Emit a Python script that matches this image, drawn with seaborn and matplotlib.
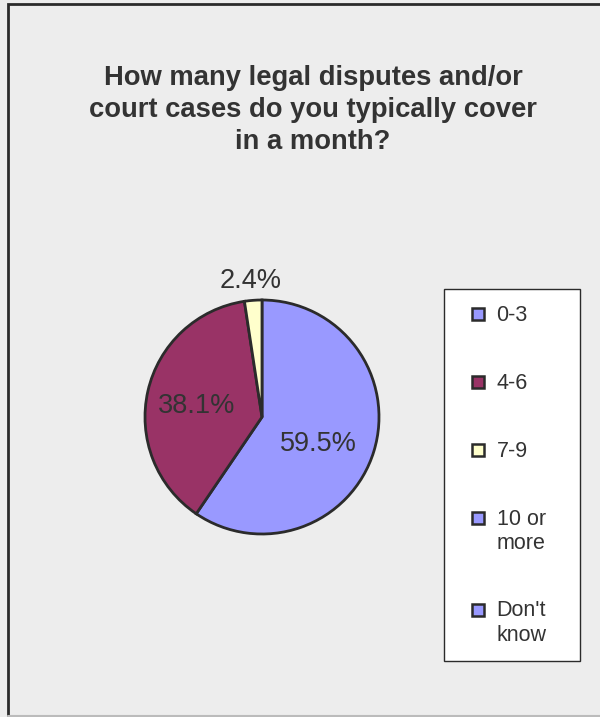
import matplotlib
matplotlib.use("Agg")
import matplotlib.pyplot as plt
import seaborn as sns
from matplotlib.lines import Line2D
from matplotlib.patches import Rectangle

# Data
categories = ["0-3", "4-6", "7-9", "10 or\nmore", "Don't\nknow"]
shares = [59.5, 38.1, 2.4, 0.0, 0.0]
colors = ["#9999FF", "#993366", "#FFFFCC", "#9999FF", "#9999FF"]
title = "How many legal disputes and/or\ncourt cases do you typically cover\nin a month?"

sns.set_style("white")
plt.rcParams["font.family"] = ["Liberation Sans", "DejaVu Sans"]
text_color = "#333333"
edge_color = "#2b2b2b"

fig = plt.figure(figsize=(6, 7.17), dpi=100)
fig.patch.set_facecolor("#EDEDED")

# outer chart border (left/top dark, bottom light)
fig.add_artist(Rectangle((7.5 / 600, 1 - 716 / 717), 1.2, (716 - 3.5) / 717,
                         transform=fig.transFigure, fill=False,
                         edgecolor=edge_color, linewidth=2))
fig.add_artist(Line2D([8 / 600, 1], [1 - 716 / 717] * 2,
                      transform=fig.transFigure, color="#BBBBBB", linewidth=1.5))

fig.text(313 / 600, 1 - 110 / 717, title, ha="center", va="center",
         fontsize=19.7, fontweight="bold", color=text_color, linespacing=1.28)

# pie area: center (262, 417), radius ~117 px
r = 117
ax = fig.add_axes([(262 - r) / 600, 1 - (417 + r) / 717, 2 * r / 600, 2 * r / 717])
vals = [v for v in shares if v > 0]
cols = [c for v, c in zip(shares, colors) if v > 0]
wedges, texts = ax.pie(vals, colors=cols, startangle=90, counterclock=False,
                       wedgeprops=dict(edgecolor=edge_color, linewidth=2))
ax.set_aspect("auto")
ax.set_xlim(-1, 1)
ax.set_ylim(-1, 1)
ax.axis("off")

label_pos = [(0.48, -0.23), (-0.56, 0.09), (-0.1, 1.16)]
for v, (x, y) in zip(vals, label_pos):
    ax.text(x, y, f"{v:.1f}%", ha="center", va="center", fontsize=19.5,
            color=text_color)

handles = [Line2D([], [], linestyle="none", marker="s", markersize=8,
                  markerfacecolor=c, markeredgecolor=edge_color,
                  markeredgewidth=1.8) for c in colors]
leg = fig.legend(handles, categories, loc="upper left",
                 bbox_to_anchor=(444 / 600, 1 - 655 / 717, 136 / 600, 366 / 717),
                 mode="expand", frameon=True, fancybox=False, fontsize=15.5,
                 handlelength=1.71, handleheight=1.2, handletextpad=0.0,
                 labelspacing=2.14, borderpad=0.73, borderaxespad=0)
leg.get_frame().set_edgecolor(edge_color)
leg.get_frame().set_linewidth(1)
leg.get_frame().set_facecolor("white")
leg.get_frame().set_alpha(1)
for t in leg.get_texts():
    t.set_color(text_color)
# keep the marker next to the first line of two-line labels
for col in leg._legend_handle_box.get_children():
    for row in col.get_children():
        row.align = "top"

fig.savefig("out.png", dpi=100, facecolor=fig.get_facecolor())
